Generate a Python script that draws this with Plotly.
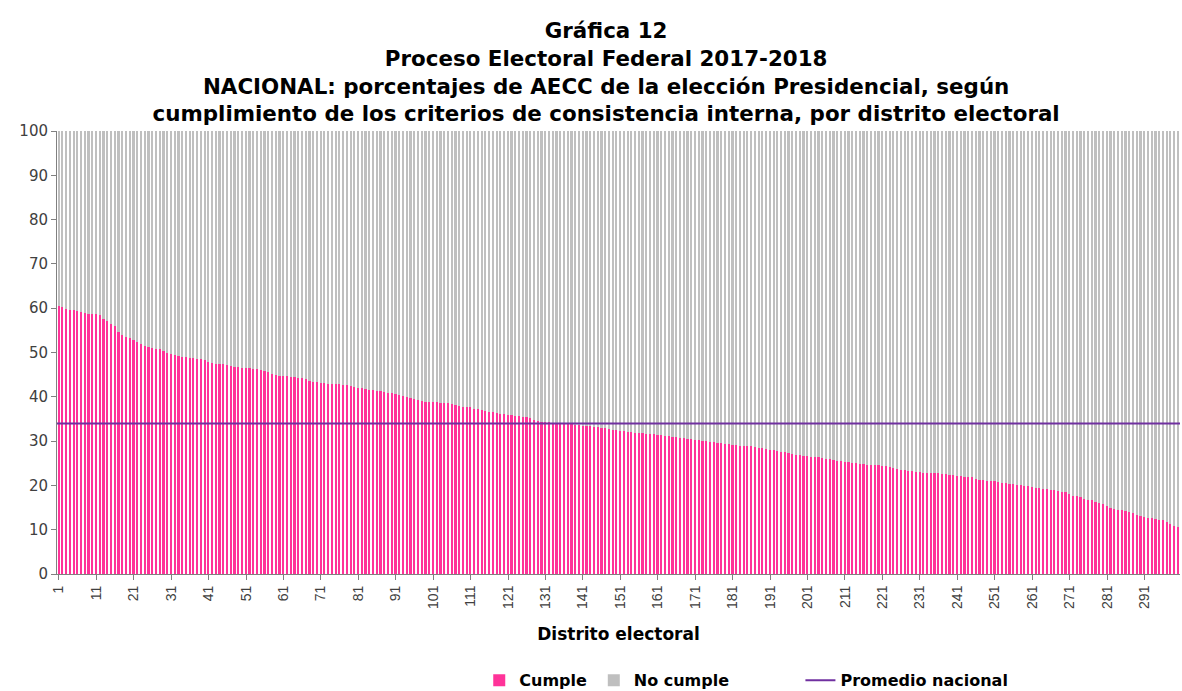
import plotly.graph_objects as go

districts = list(range(1, 301))

cumple = [
    60.5, 60.3, 59.8, 59.7, 59.5, 59.4, 59.2, 59.0, 58.8, 58.7,
    58.6, 58.4, 57.6, 57.0, 56.5, 56.0, 54.6, 54.0, 53.6, 53.2,
    52.8, 52.4, 52.0, 51.5, 51.2, 51.0, 50.9, 50.8, 50.4, 50.0,
    49.7, 49.5, 49.3, 49.0, 48.9, 48.8, 48.7, 48.6, 48.5, 48.4,
    47.8, 47.6, 47.5, 47.4, 47.3, 47.2, 47.0, 46.8, 46.7, 46.6,
    46.5, 46.4, 46.3, 46.2, 46.0, 45.8, 45.5, 45.2, 44.9, 44.8,
    44.7, 44.6, 44.5, 44.4, 44.3, 44.2, 44.1, 43.6, 43.4, 43.3,
    43.2, 43.1, 43.0, 42.9, 42.9, 42.8, 42.7, 42.6, 42.5, 42.3,
    42.0, 41.9, 41.8, 41.6, 41.5, 41.4, 41.2, 41.0, 40.9, 40.8,
    40.7, 40.5, 40.2, 40.0, 39.8, 39.5, 39.2, 39.0, 38.9, 38.9,
    38.8, 38.8, 38.7, 38.6, 38.5, 38.3, 38.1, 37.9, 37.8, 37.7,
    37.6, 37.3, 37.2, 37.0, 36.8, 36.6, 36.5, 36.3, 36.2, 36.1,
    36.0, 35.9, 35.7, 35.6, 35.5, 35.4, 35.2, 34.8, 34.6, 34.4,
    34.3, 34.2, 34.1, 34.0, 33.9, 33.9, 33.8, 33.8, 33.7, 33.6,
    33.5, 33.5, 33.4, 33.2, 33.1, 33.0, 32.9, 32.8, 32.6, 32.4,
    32.3, 32.2, 32.1, 32.0, 31.9, 31.9, 31.8, 31.7, 31.6, 31.5,
    31.4, 31.3, 31.2, 31.1, 31.0, 30.9, 30.8, 30.7, 30.5, 30.4,
    30.3, 30.2, 30.1, 30.0, 29.9, 29.8, 29.6, 29.5, 29.4, 29.3,
    29.2, 29.1, 29.0, 28.9, 28.9, 28.8, 28.7, 28.5, 28.4, 28.2,
    28.0, 27.9, 27.8, 27.6, 27.5, 27.3, 27.1, 26.9, 26.8, 26.7,
    26.6, 26.5, 26.4, 26.3, 26.1, 26.0, 25.9, 25.8, 25.6, 25.4,
    25.3, 25.2, 25.1, 25.0, 24.9, 24.8, 24.7, 24.6, 24.5, 24.5,
    24.4, 24.3, 24.1, 24.0, 23.7, 23.5, 23.4, 23.3, 23.2, 23.1,
    23.0, 22.9, 22.9, 22.8, 22.8, 22.7, 22.6, 22.5, 22.4, 22.3,
    22.2, 22.1, 22.0, 21.9, 21.8, 21.5, 21.3, 21.2, 21.1, 21.0,
    20.9, 20.7, 20.6, 20.5, 20.4, 20.3, 20.2, 20.0, 19.9, 19.8,
    19.6, 19.5, 19.4, 19.3, 19.1, 19.0, 18.9, 18.8, 18.6, 18.4,
    18.0, 17.7, 17.5, 17.3, 17.0, 16.8, 16.6, 16.3, 16.0, 15.7,
    15.4, 15.0, 14.7, 14.5, 14.4, 14.2, 14.0, 13.7, 13.4, 13.1,
    12.8, 12.7, 12.6, 12.4, 12.2, 12.1, 11.8, 11.3, 10.9, 10.5,
]
no_cumple = [round(100 - v, 1) for v in cumple]
promedio_nacional = 34.0

tick_vals = list(range(1, 300, 10))
tick_text = [str(v) for v in tick_vals]

FONT = "DejaVu Sans, Liberation Sans, sans-serif"
FONT_NARROW = "Liberation Sans, Arial, sans-serif"

fig = go.Figure()
fig.add_trace(go.Bar(x=districts, y=cumple, name="Cumple", legend="legend",
                     marker=dict(color="#FF3399", line=dict(width=0))))
fig.add_trace(go.Bar(x=districts, y=no_cumple, name="No cumple", legend="legend2",
                     marker=dict(color="#BFBFBF", line=dict(width=0))))
fig.add_trace(go.Scatter(x=[districts[0] - 0.5, districts[-1] + 0.5],
                         y=[promedio_nacional, promedio_nacional],
                         mode="lines", name="Promedio nacional", legend="legend3",
                         line=dict(color="#7030A0", width=2)))

leg_common = dict(orientation="h", xanchor="left", yanchor="middle", y=-0.24,
                  font=dict(family=FONT, size=16, color="black", weight="bold"),
                  bgcolor="rgba(0,0,0,0)")

fig.update_layout(
    width=1182, height=691, autosize=False, showlegend=True,
    barmode="stack", bargap=0.55,
    paper_bgcolor="white", plot_bgcolor="white",
    margin=dict(l=57, r=2, t=131, b=117, autoexpand=False),
    font=dict(family=FONT, color="#404040"),
    title=dict(
        text=("Gráfica 12<br>Proceso Electoral Federal 2017-2018<br>"
              "NACIONAL: porcentajes de AECC de la elección Presidencial, según<br>"
              "cumplimiento de los criterios de consistencia interna, por distrito electoral"),
        x=0.489, xanchor="center", xref="paper", y=0.945, yanchor="top", yref="container",
        font=dict(family=FONT, size=21.4, color="black", weight="bold"),
    ),
    xaxis=dict(
        range=[0.5, 300.5], tickmode="array", tickvals=tick_vals, ticktext=tick_text,
        tickangle=-90, ticks="outside", ticklen=5, tickcolor="#808080",
        showline=True, linecolor="#808080", linewidth=1, showgrid=False, zeroline=False,
        tickfont=dict(family=FONT_NARROW, size=14, color="#404040"), automargin=False,
        title=dict(text="<b>Distrito electoral</b>", standoff=20,
                   font=dict(family=FONT, size=17, color="black")),
    ),
    yaxis=dict(
        range=[0, 100], dtick=10, ticks="outside", ticklen=5, tickcolor="#808080",
        showline=True, linecolor="#808080", linewidth=1, showgrid=False, zeroline=False,
        tickfont=dict(family=FONT, size=15, color="#404040"), automargin=False,
    ),
    legend=dict(x=0.376, **leg_common),
    legend2=dict(x=0.478, **leg_common),
    legend3=dict(x=0.662, **leg_common),
)

fig.write_html("out.html", config={"responsive": False, "displayModeBar": False},
               post_script="document.body.style.margin='0';document.body.style.overflow='hidden';")
